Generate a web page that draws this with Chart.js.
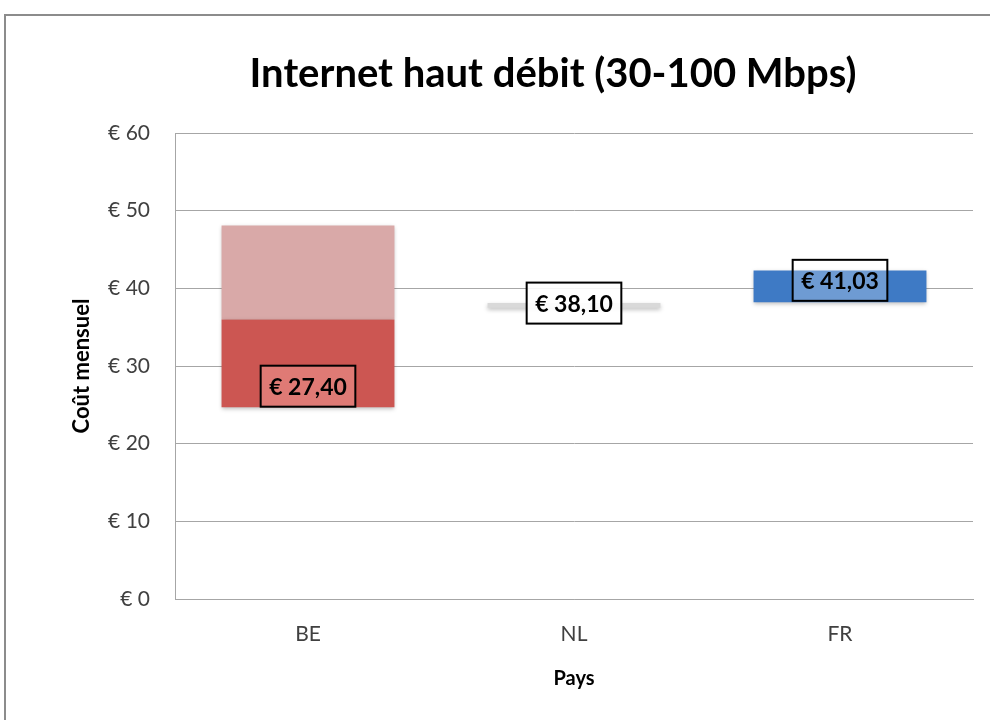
<!DOCTYPE html>
<html>
<head>
<meta charset="utf-8">
<script src="https://cdn.jsdelivr.net/npm/chart.js@4/dist/chart.umd.min.js"></script>
<style>
  body { margin: 0; background: #fff; }
  #wrap { position: relative; width: 990px; height: 720px; overflow: hidden; }
  #frame { position: absolute; left: 4px; top: 14px; width: 1100px; height: 800px; border: 2px solid #8c8c8c; }
  canvas { position: absolute; left: 0; top: 0; }
</style>
</head>
<body>
<div id="wrap">
  <div id="frame"></div>
  <canvas id="priceChart" width="990" height="720"></canvas>
</div>
<script>
const countries = ['BE', 'NL', 'FR'];
const lowPrice = [24.7, 37.5, 38.2];
const midPrice = [36.0, null, null];
const highPrice = [48.1, 38.1, 42.3];
const avgPrice = [27.40, 38.10, 41.03];
const yTicks = [0, 10, 20, 30, 40, 50, 60];

const FONT = 'Lato, "Open Sans", sans-serif';

// bas de la fourchette (ou fourchette complete si pas de milieu)
const lowerBars = countries.map((c, i) => [lowPrice[i], midPrice[i] !== null ? midPrice[i] : highPrice[i]]);
const upperBars = countries.map((c, i) => midPrice[i] !== null ? [midPrice[i], highPrice[i]] : null);

const fmtEuro = v => '€ ' + v.toFixed(2).replace('.', ',');

const titlePlugin = {
  id: 'bigTitle',
  afterDraw(chart) {
    const ctx = chart.ctx;
    ctx.save();
    ctx.font = 'bold 40px ' + FONT;
    ctx.fillStyle = '#000';
    ctx.textAlign = 'center';
    ctx.textBaseline = 'middle';
    ctx.fillText('Internet haut débit (30-100 Mbps)', 553, 74);
    ctx.restore();
  }
};

const shadowPlugin = {
  id: 'barShadow',
  beforeDatasetsDraw(chart) {
    chart.ctx.save();
    chart.ctx.shadowColor = 'rgba(0,0,0,0.25)';
    chart.ctx.shadowBlur = 4;
    chart.ctx.shadowOffsetY = 2;
  },
  afterDatasetsDraw(chart) {
    chart.ctx.restore();
  }
};

const labelFills = ['rgba(230,135,130,0.75)', 'rgba(255,255,255,0.9)', 'rgba(255,255,255,0.25)'];

const avgLabelPlugin = {
  id: 'avgLabels',
  afterDatasetsDraw(chart) {
    const ctx = chart.ctx;
    const xs = chart.scales.x, ys = chart.scales.y;
    ctx.save();
    ctx.font = 'bold 23px ' + FONT;
    ctx.textAlign = 'center';
    ctx.textBaseline = 'middle';
    avgPrice.forEach((v, i) => {
      const x = xs.getPixelForValue(i);
      const y = ys.getPixelForValue(v);
      const txt = fmtEuro(v);
      const w = ctx.measureText(txt).width + 17;
      const h = 41;
      ctx.fillStyle = labelFills[i];
      ctx.fillRect(x - w / 2, y - h / 2, w, h);
      ctx.lineWidth = 2;
      ctx.strokeStyle = '#000';
      ctx.strokeRect(x - w / 2, y - h / 2, w, h);
      ctx.fillStyle = '#000';
      ctx.fillText(txt, x, y + 1);
    });
    ctx.restore();
  }
};

new Chart(document.getElementById('priceChart'), {
  type: 'bar',
  data: {
    labels: countries,
    datasets: [
      {
        label: 'bas',
        data: lowerBars,
        backgroundColor: ['#cc5652', '#d9d9d9', '#3e7ac5'],
        barPercentage: 0.65,
        categoryPercentage: 1
      },
      {
        label: 'haut',
        data: upperBars,
        backgroundColor: '#d9a9a8',
        barPercentage: 0.65,
        categoryPercentage: 1
      }
    ]
  },
  options: {
    responsive: false,
    animation: false,
    layout: { padding: { left: 0, top: 133, right: 17, bottom: 0 } },
    plugins: {
      legend: { display: false },
      tooltip: { enabled: false }
    },
    scales: {
      x: {
        stacked: true,
        grid: { display: false, drawTicks: false },
        border: { display: true, color: '#a6a6a6', width: 1 },
        ticks: { color: '#404040', font: { family: FONT, size: 21 }, padding: 23 },
        title: { display: true, text: 'Pays', color: '#000', font: { family: FONT, size: 20, weight: 'bold' }, padding: { top: 0, bottom: 29 } },
        afterFit(scale) { scale.height = 121; }
      },
      y: {
        min: 0,
        max: 60,
        afterBuildTicks(scale) { scale.ticks = yTicks.map(v => ({ value: v })); },
        grid: { color: '#a6a6a6', drawTicks: false },
        border: { display: true, color: '#a6a6a6', width: 1 },
        ticks: { color: '#404040', font: { family: FONT, size: 21 }, padding: 25, callback: v => '€ ' + v },
        title: { display: true, text: 'Coût mensuel', color: '#000', font: { family: FONT, size: 22, weight: 'bold' }, padding: { top: 69, bottom: 0 } },
        afterFit(scale) { scale.width = 175; }
      }
    }
  },
  plugins: [shadowPlugin, avgLabelPlugin, titlePlugin]
});
</script>
</body>
</html>
